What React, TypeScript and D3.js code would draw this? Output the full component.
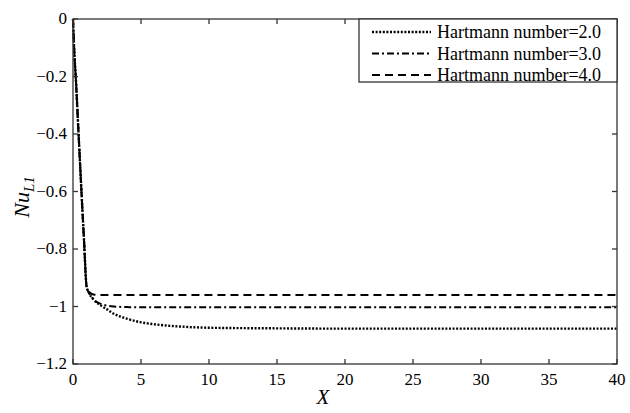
import React, { useEffect, useRef } from "react";
import * as d3 from "d3";

const xs = [0, 0.1, 0.2, 0.4, 0.6, 0.8, 1.0, 1.2, 1.5, 2, 2.5, 3, 4, 5, 6, 8, 10, 15, 20, 30, 40];
const ha2 = [0, -0.12, -0.2, -0.39, -0.58, -0.76, -0.93, -0.955, -0.975, -0.995, -1.01, -1.025, -1.043, -1.055, -1.062, -1.07, -1.074, -1.076, -1.077, -1.077, -1.077];
const ha3 = [0, -0.12, -0.2, -0.39, -0.58, -0.76, -0.93, -0.955, -0.975, -0.99, -0.997, -1.0, -1.002, -1.003, -1.003, -1.003, -1.003, -1.003, -1.003, -1.003, -1.003];
const ha4 = [0, -0.12, -0.2, -0.39, -0.58, -0.76, -0.93, -0.95, -0.958, -0.96, -0.96, -0.96, -0.96, -0.96, -0.96, -0.96, -0.96, -0.96, -0.96, -0.96, -0.96];
const labels = ["Hartmann number=2.0", "Hartmann number=3.0", "Hartmann number=4.0"];
const dashes = ["2,1.6", "7,3,2,3", "8,5"];
const xTicks = [0, 5, 10, 15, 20, 25, 30, 35, 40];
const yTicks = [0, -0.2, -0.4, -0.6, -0.8, -1, -1.2];

const font = "'Liberation Serif', 'Times New Roman', serif";

const App = () => {
  const svgRef = useRef<SVGSVGElement>(null);

  useEffect(() => {
    const svg = d3.select(svgRef.current);
    svg.selectAll("*").remove();
    const left = 73, right = 617, top = 19, bottom = 364;
    const x = d3.scaleLinear().domain([0, 40]).range([left, right]);
    const y = d3.scaleLinear().domain([-1.2, 0]).range([bottom, top]);

    const series = [ha2, ha3, ha4];
    const line = d3
      .line<number>()
      .x((d, i) => x(xs[i]))
      .y((d) => y(d))
      .curve(d3.curveMonotoneX);

    const g = svg.append("g");
    series.forEach((s, k) => {
      g.append("path")
        .attr("d", line(s))
        .attr("fill", "none")
        .attr("stroke", "#000")
        .attr("stroke-width", k === 0 ? 2.4 : 2)
        .attr("stroke-dasharray", dashes[k]);
    });

    const tickLen = 5;
    const axisColor = "#333";
    const ax = svg.append("g").attr("stroke", axisColor).attr("stroke-width", 1.3);
    ax.append("rect")
      .attr("x", left).attr("y", top)
      .attr("width", right - left).attr("height", bottom - top)
      .attr("fill", "none");
    xTicks.forEach((t) => {
      ax.append("line").attr("x1", x(t)).attr("x2", x(t)).attr("y1", bottom).attr("y2", bottom - tickLen);
      ax.append("line").attr("x1", x(t)).attr("x2", x(t)).attr("y1", top).attr("y2", top + tickLen);
    });
    yTicks.forEach((t) => {
      ax.append("line").attr("x1", left).attr("x2", left + tickLen).attr("y1", y(t)).attr("y2", y(t));
      ax.append("line").attr("x1", right).attr("x2", right - tickLen).attr("y1", y(t)).attr("y2", y(t));
    });

    svg.append("g")
      .selectAll("text")
      .data(xTicks)
      .join("text")
      .attr("x", (d) => x(d))
      .attr("y", bottom + 21)
      .attr("text-anchor", "middle")
      .style("font-family", font)
      .style("font-size", "17px")
      .text((d) => d);

    svg.append("g")
      .selectAll("text")
      .data(yTicks)
      .join("text")
      .attr("x", left - 6)
      .attr("y", (d) => y(d) + 5)
      .attr("text-anchor", "end")
      .style("font-family", font)
      .style("font-size", "17px")
      .text((d) => (d === 0 ? "0" : d3.format("")(d)));

    svg.append("text")
      .attr("x", 323)
      .attr("y", 404)
      .attr("text-anchor", "middle")
      .style("font-family", font)
      .style("font-style", "italic")
      .style("font-size", "21px")
      .text("X");

    const yl = svg.append("text")
      .attr("transform", `translate(29,197) rotate(-90)`)
      .attr("text-anchor", "middle")
      .style("font-family", font)
      .style("font-style", "italic")
      .style("font-size", "22px");
    yl.append("tspan").text("Nu");
    yl.append("tspan").style("font-size", "15px").attr("dy", 5).text("L1");

    // legend
    const lx = 359, ly = top, lw = right - lx, lh = 63;
    const lg = svg.append("g");
    lg.append("rect")
      .attr("x", lx).attr("y", ly).attr("width", lw).attr("height", lh)
      .attr("fill", "#fff").attr("stroke", axisColor).attr("stroke-width", 1.3);
    labels.forEach((lab, k) => {
      const cy = 32 + k * 21.5;
      lg.append("line")
        .attr("x1", 372).attr("x2", 431).attr("y1", cy).attr("y2", cy)
        .attr("stroke", "#000").attr("stroke-width", k === 0 ? 2.4 : 2)
        .attr("stroke-dasharray", dashes[k]);
      lg.append("text")
        .attr("x", 437).attr("y", cy + 6)
        .style("font-family", font).style("font-size", "18px")
        .text(lab);
    });
  }, []);

  return (
    <svg
      ref={svgRef}
      width={630}
      height={413}
      style={{ position: "absolute", left: 0, top: 0, background: "#fff" }}
    />
  );
};

export default App;
